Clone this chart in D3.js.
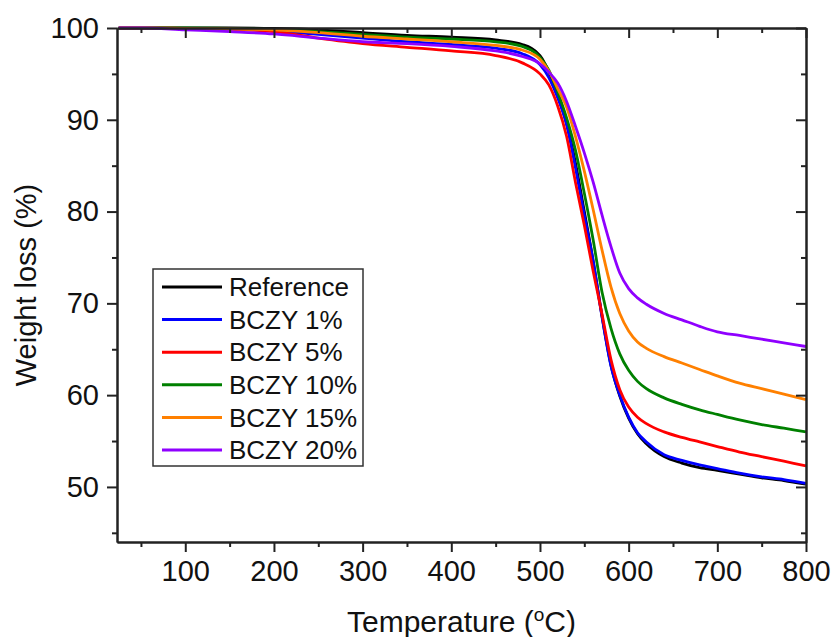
<!DOCTYPE html>
<html lang="en">
<head>
<meta charset="utf-8">
<title>TGA weight loss</title>
<script src="https://cdn.jsdelivr.net/npm/d3@7"></script>
<style>
  body { margin: 0; background: #fff; }
  text { font-family: "Liberation Sans", Arial, sans-serif; fill: #111; }
</style>
</head>
<body>
<script>
// Temperature grid (oC)
const temperature = [25, 50, 100, 150, 200, 250, 300, 350, 400, 450, 480, 500, 510, 520, 530, 540,
  550, 560, 570, 580, 590, 600, 610, 620, 640, 660, 680, 700, 725, 750, 775, 800];

// Weight (%) per sample
const reference = [100, 100, 100, 100, 99.95, 99.8, 99.5, 99.2, 99.0, 98.7, 98.2, 97.0, 95.2, 92.6, 89.6, 85.3,
  80.0, 74.6, 68.6, 63.3, 59.9, 57.5, 55.8, 54.7, 53.3, 52.6, 52.1, 51.8, 51.4, 51.0, 50.7, 50.3];
const bczy1 = [100, 100, 99.95, 99.9, 99.7, 99.3, 98.9, 98.5, 98.2, 97.8, 97.2, 96.0, 94.6, 92.4, 89.5, 84.8,
  79.6, 74.6, 68.5, 63.2, 60.0, 57.6, 55.9, 54.9, 53.5, 52.9, 52.4, 52.0, 51.5, 51.1, 50.8, 50.4];
const bczy5 = [100, 100, 99.95, 99.85, 99.6, 98.9, 98.3, 97.9, 97.5, 97.0, 96.2, 95.0, 93.8, 91.5, 88.2, 83.2,
  78.5, 73.5, 68.8, 63.9, 60.6, 58.7, 57.6, 56.9, 56.0, 55.4, 54.9, 54.4, 53.8, 53.3, 52.8, 52.3];
const bczy10 = [100, 100, 100, 99.95, 99.85, 99.6, 99.3, 99.0, 98.8, 98.5, 98.0, 96.8, 95.4, 93.0, 90.2, 86.7,
  82.0, 76.9, 71.2, 67.3, 64.5, 62.7, 61.5, 60.7, 59.7, 59.0, 58.4, 57.9, 57.3, 56.8, 56.4, 56.0];
const bczy15 = [100, 100, 99.95, 99.9, 99.8, 99.5, 99.1, 98.8, 98.5, 98.1, 97.6, 96.6, 95.3, 93.4, 91.4, 88.2,
  84.4, 80.2, 75.8, 71.8, 68.9, 67.0, 65.8, 65.1, 64.2, 63.5, 62.8, 62.1, 61.3, 60.7, 60.1, 59.5];
const bczy20 = [100, 100, 99.8, 99.6, 99.35, 98.9, 98.5, 98.3, 98.0, 97.5, 96.9, 96.1, 95.2, 94.0, 92.0, 89.3,
  86.4, 83.2, 79.6, 76.2, 73.3, 71.6, 70.6, 69.9, 68.9, 68.2, 67.5, 66.9, 66.5, 66.1, 65.7, 65.3];

const seriesNames = ["Reference", "BCZY 1%", "BCZY 5%", "BCZY 10%", "BCZY 15%", "BCZY 20%"];
const seriesValues = [reference, bczy1, bczy5, bczy10, bczy15, bczy20];
const seriesColors = ["#000000", "#0000ff", "#ff0000", "#008000", "#ff8000", "#8f00ff"];

const xTicks = [100, 200, 300, 400, 500, 600, 700, 800];
const xMinor = [50, 150, 250, 350, 450, 550, 650, 750];
const yTicks = [50, 60, 70, 80, 90, 100];
const yMinor = [45, 55, 65, 75, 85, 95];

// Layout
const W = 833, H = 637;
const mLeft = 117, mRight = 806, mTop = 28, mBottom = 542;

const x = d3.scaleLinear().domain([23, 800]).range([mLeft, mRight]);
const y = d3.scaleLinear().domain([44, 100]).range([mBottom, mTop]);

const svg = d3.select("body").append("svg")
  .attr("width", W)
  .attr("height", H);

// Curves
const line = d3.line()
  .x(d => x(d[0]))
  .y(d => y(d[1]))
  .curve(d3.curveMonotoneX);

seriesValues.forEach((vals, i) => {
  svg.append("path")
    .datum(temperature.map((t, j) => [t, vals[j]]))
    .attr("fill", "none")
    .attr("stroke", seriesColors[i])
    .attr("stroke-width", 2.8)
    .attr("d", line);
});

// Axes: outward ticks on left/bottom, inward on top/right
const axisColor = "#222";
function styleAxis(g) {
  g.select(".domain").attr("stroke", axisColor).attr("stroke-width", 2);
  g.selectAll(".tick line").attr("stroke", axisColor).attr("stroke-width", 2);
  g.selectAll(".tick text")
    .style("font-size", "29px")
    .attr("fill", "#111");
}

svg.append("g")
  .attr("transform", `translate(0,${mBottom})`)
  .call(d3.axisBottom(x).tickValues(xTicks).tickSize(10).tickPadding(8).tickSizeOuter(0))
  .call(styleAxis);
svg.append("g")
  .attr("transform", `translate(0,${mBottom})`)
  .call(d3.axisBottom(x).tickValues(xMinor).tickSize(5).tickFormat("").tickSizeOuter(0))
  .call(styleAxis);

svg.append("g")
  .attr("transform", `translate(0,${mTop})`)
  .call(d3.axisBottom(x).tickValues(xTicks).tickSize(10).tickFormat("").tickSizeOuter(0))
  .call(styleAxis);
svg.append("g")
  .attr("transform", `translate(0,${mTop})`)
  .call(d3.axisBottom(x).tickValues(xMinor).tickSize(5).tickFormat("").tickSizeOuter(0))
  .call(styleAxis);

svg.append("g")
  .attr("transform", `translate(${mLeft},0)`)
  .call(d3.axisLeft(y).tickValues(yTicks).tickSize(10).tickPadding(8).tickSizeOuter(0))
  .call(styleAxis);
svg.append("g")
  .attr("transform", `translate(${mLeft},0)`)
  .call(d3.axisLeft(y).tickValues(yMinor).tickSize(5).tickFormat("").tickSizeOuter(0))
  .call(styleAxis);

svg.append("g")
  .attr("transform", `translate(${mRight},0)`)
  .call(d3.axisLeft(y).tickValues(yTicks).tickSize(10).tickFormat("").tickSizeOuter(0))
  .call(styleAxis);
svg.append("g")
  .attr("transform", `translate(${mRight},0)`)
  .call(d3.axisLeft(y).tickValues(yMinor).tickSize(5).tickFormat("").tickSizeOuter(0))
  .call(styleAxis);

// Axis titles
const xt = svg.append("text")
  .attr("x", (mLeft + mRight) / 2)
  .attr("y", 632)
  .attr("text-anchor", "middle")
  .style("font-size", "30px")
  .text("Temperature (");
xt.append("tspan").attr("dy", -11).style("font-size", "19px").text("o");
xt.append("tspan").attr("dy", 11).text("C)");

svg.append("text")
  .attr("transform", `translate(36,${(mTop + mBottom) / 2}) rotate(-90)`)
  .attr("text-anchor", "middle")
  .style("font-size", "29px")
  .text("Weight loss (%)");

// Legend
const legend = svg.append("g");
legend.append("rect")
  .attr("x", 153).attr("y", 269)
  .attr("width", 210).attr("height", 197)
  .attr("fill", "#fff")
  .attr("stroke", "#333")
  .attr("stroke-width", 1.5);

seriesNames.forEach((name, i) => {
  const cy = 287 + i * 32.6;
  legend.append("line")
    .attr("x1", 162).attr("x2", 222)
    .attr("y1", cy).attr("y2", cy)
    .attr("stroke", seriesColors[i])
    .attr("stroke-width", 3);
  legend.append("text")
    .attr("x", 229).attr("y", cy)
    .attr("dy", "0.35em")
    .style("font-size", "26px")
    .text(name);
});
</script>
</body>
</html>
